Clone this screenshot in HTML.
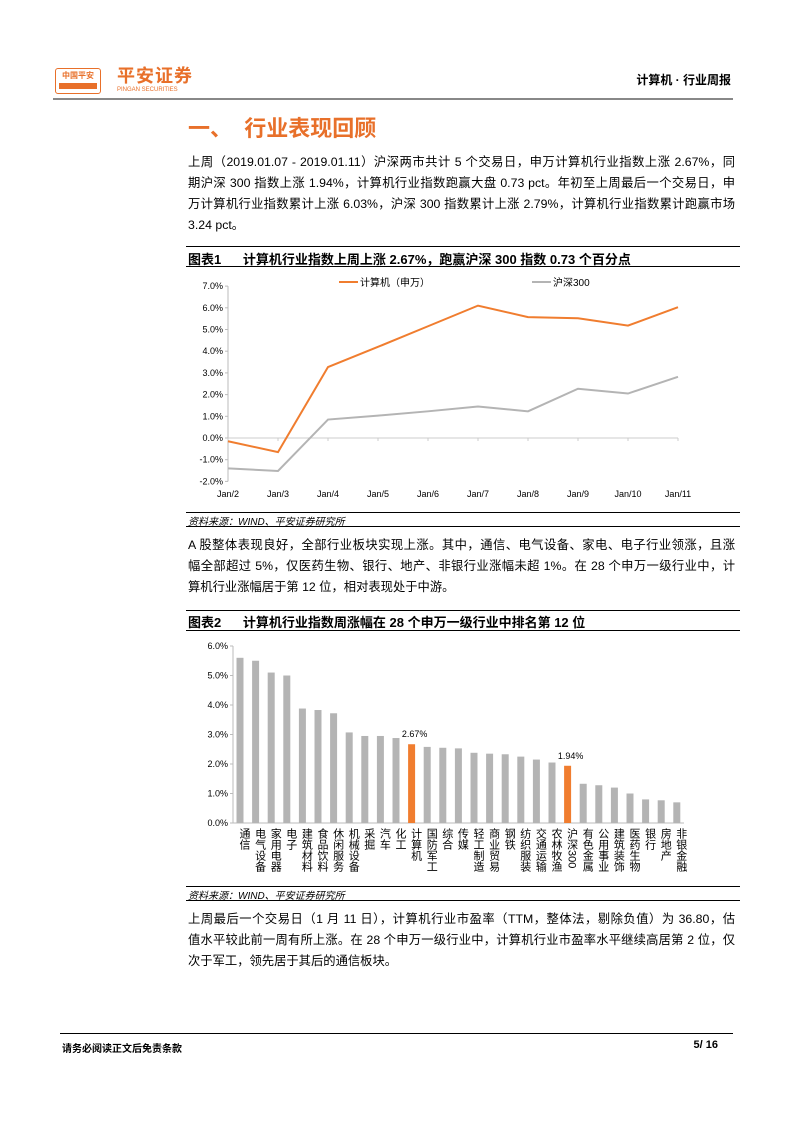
<!DOCTYPE html>
<html><head><meta charset="utf-8">
<style>
body{margin:0;background:#fff;}
#page{position:relative;width:793px;height:1122px;overflow:hidden;font-family:"Liberation Sans","Noto Sans CJK SC",sans-serif;color:#000;}
.abs{position:absolute;}
.ln{position:absolute;left:188px;width:547px;font-size:12.3px;line-height:16px;white-space:nowrap;}
.j{text-align:justify;text-align-last:justify;}
.cap{position:absolute;left:188px;font-size:13px;font-weight:bold;white-space:nowrap;}
.src{position:absolute;left:188px;font-size:10px;font-style:italic;white-space:nowrap;}
.hr{position:absolute;left:186px;width:554px;height:1px;background:#000;}
</style></head><body>
<div id="page">
<div class="abs" style="left:55px;top:68px;width:44px;height:24px;border:1px solid #e8702a;border-radius:3px;color:#e8702a;font-size:8px;font-weight:bold;text-align:center;line-height:14px;">中国平安<div style="background:#e8702a;height:6px;margin:0 3px;"></div></div>
<div class="abs" style="left:117px;top:66px;color:#e8702a;font-size:18px;font-weight:bold;letter-spacing:1px;line-height:20px;">平安证券</div>
<div class="abs" style="left:117px;top:87px;color:#e8702a;font-size:6px;line-height:7px;">PINGAN SECURITIES</div>
<div class="abs" style="right:62px;top:71px;font-size:12px;font-weight:bold;">计算机 · 行业周报</div>
<div class="abs" style="left:53px;top:98px;width:680px;height:2px;background:#888;"></div>
<div class="abs" style="left:188px;top:111px;color:#e8702a;font-size:22px;font-weight:bold;">一、&nbsp;&nbsp;行业表现回顾</div>

<div class="ln j" style="top:154px;">上周（2019.01.07 - 2019.01.11）沪深两市共计 5 个交易日，申万计算机行业指数上涨 2.67%，同</div>
<div class="ln j" style="top:175px;">期沪深 300 指数上涨 1.94%，计算机行业指数跑赢大盘 0.73 pct。年初至上周最后一个交易日，申</div>
<div class="ln j" style="top:196px;">万计算机行业指数累计上涨 6.03%，沪深 300 指数累计上涨 2.79%，计算机行业指数累计跑赢市场</div>
<div class="ln" style="top:217px;">3.24 pct。</div>

<div class="hr" style="top:246px;"></div>
<div class="cap" style="top:249px;">图表1&nbsp;&nbsp;&nbsp;&nbsp;&nbsp;&nbsp;计算机行业指数上周上涨 2.67%，跑赢沪深 300 指数 0.73 个百分点</div>
<div class="hr" style="top:266px;"></div>
<svg class="abs" id="c1" style="left:0;top:0" width="793" height="530"></svg>
<div class="hr" style="top:512px;"></div>
<div class="src" style="top:513px;">资料来源：WIND、平安证券研究所</div>
<div class="hr" style="top:526px;"></div>

<div class="ln j" style="top:537px;">A 股整体表现良好，全部行业板块实现上涨。其中，通信、电气设备、家电、电子行业领涨，且涨</div>
<div class="ln j" style="top:558px;">幅全部超过 5%，仅医药生物、银行、地产、非银行业涨幅未超 1%。在 28 个申万一级行业中，计</div>
<div class="ln" style="top:579px;">算机行业涨幅居于第 12 位，相对表现处于中游。</div>

<div class="hr" style="top:610px;"></div>
<div class="cap" style="top:612px;">图表2&nbsp;&nbsp;&nbsp;&nbsp;&nbsp;&nbsp;计算机行业指数周涨幅在 28 个申万一级行业中排名第 12 位</div>
<div class="hr" style="top:630px;"></div>
<svg class="abs" id="c2" style="left:0;top:0" width="793" height="900"></svg>
<div class="hr" style="top:886px;"></div>
<div class="src" style="top:887px;">资料来源：WIND、平安证券研究所</div>
<div class="hr" style="top:900px;"></div>

<div class="ln j" style="top:911px;">上周最后一个交易日（1 月 11 日），计算机行业市盈率（TTM，整体法，剔除负值）为 36.80，估</div>
<div class="ln j" style="top:932px;">值水平较此前一周有所上涨。在 28 个申万一级行业中，计算机行业市盈率水平继续高居第 2 位，仅</div>
<div class="ln" style="top:953px;">次于军工，领先居于其后的通信板块。</div>

<div class="abs" style="left:60px;top:1033px;width:673px;height:1px;background:#000;"></div>
<div class="abs" style="left:62px;top:1040px;font-size:10px;font-weight:bold;">请务必阅读正文后免责条款</div>
<div class="abs" style="right:75px;top:1039px;font-size:11px;font-weight:bold;">5/ 16</div>
</div>
<script>
const NS='http://www.w3.org/2000/svg';
function mk(svg,t,a,txt){const e=document.createElementNS(NS,t);for(const k in a)e.setAttribute(k,a[k]);if(txt!==undefined)e.textContent=txt;svg.appendChild(e);return e;}
// chart 1 data
const dates=['Jan/2','Jan/3','Jan/4','Jan/5','Jan/6','Jan/7','Jan/8','Jan/9','Jan/10','Jan/11'];
const computer=[-0.15,-0.65,3.27,4.2,5.15,6.1,5.57,5.52,5.18,6.03];
const hs300=[-1.4,-1.52,0.85,1.03,1.23,1.45,1.23,2.27,2.05,2.82];
const yTicks1=[-2,-1,0,1,2,3,4,5,6,7];
const s1=document.getElementById('c1');
const x1=i=>228+i*50, y1=v=>438-v*21.7;
mk(s1,'line',{x1:228,y1:y1(-2),x2:228,y2:y1(7),stroke:'#bbb'});
mk(s1,'line',{x1:228,y1:y1(0),x2:678,y2:y1(0),stroke:'#ccc'});
yTicks1.forEach(v=>{const t=mk(s1,'text',{x:223,y:y1(v)+3,'font-size':9,'text-anchor':'end',fill:'#000'},v.toFixed(1)+'%');mk(s1,'line',{x1:225,y1:y1(v),x2:228,y2:y1(v),stroke:'#bbb'});});
dates.forEach((d,i)=>{const t=mk(s1,'text',{x:x1(i),y:497,'font-size':9,'text-anchor':'middle'},d);mk(s1,'line',{x1:x1(i),y1:y1(0),x2:x1(i),y2:y1(0)+3,stroke:'#ccc'});});
const p1=mk(s1,'polyline',{points:computer.map((v,i)=>x1(i)+','+y1(v)).join(' '),fill:'none',stroke:'#f07d2f','stroke-width':2});

const p2=mk(s1,'polyline',{points:hs300.map((v,i)=>x1(i)+','+y1(v)).join(' '),fill:'none',stroke:'#b4b4b4','stroke-width':2});

mk(s1,'line',{x1:339,y1:282,x2:358,y2:282,stroke:'#f07d2f','stroke-width':2});
const l1=mk(s1,'text',{x:360,y:286,'font-size':10},'计算机（申万）');
mk(s1,'line',{x1:532,y1:282,x2:551,y2:282,stroke:'#b4b4b4','stroke-width':2});
const l2=mk(s1,'text',{x:553,y:286,'font-size':10},'沪深300');
// chart 2 data
const industries=['通信','电气设备','家用电器','电子','建筑材料','食品饮料','休闲服务','机械设备','采掘','汽车','化工','计算机','国防军工','综合','传媒','轻工制造','商业贸易','钢铁','纺织服装','交通运输','农林牧渔','沪深300','有色金属','公用事业','建筑装饰','医药生物','银行','房地产','非银金融'];
const gains=[5.6,5.5,5.1,5.0,3.88,3.83,3.72,3.07,2.95,2.95,2.88,2.67,2.58,2.55,2.53,2.38,2.35,2.33,2.25,2.15,2.05,1.94,1.33,1.28,1.2,1.0,0.8,0.77,0.7];
const highlight=['计算机','沪深300'];
const yTicks2=[0,1,2,3,4,5,6];
const s2=document.getElementById('c2');
const x2=i=>240+i*15.6, y2=v=>823-v*29.5;
mk(s2,'line',{x1:233,y1:y2(0),x2:233,y2:y2(6),stroke:'#bbb'});
mk(s2,'line',{x1:233,y1:y2(0),x2:684,y2:y2(0),stroke:'#bbb'});
yTicks2.forEach(v=>{const t=mk(s2,'text',{x:228,y:y2(v)+3,'font-size':9,'text-anchor':'end'},v.toFixed(1)+'%');mk(s2,'line',{x1:230,y1:y2(v),x2:233,y2:y2(v),stroke:'#bbb'});});
industries.forEach((n,i)=>{const hl=highlight.includes(n);
const r=mk(s2,'rect',{x:x2(i)-3.5,y:y2(gains[i]),width:7,height:y2(0)-y2(gains[i]),fill:hl?'#f07d2f':'#b4b4b4'});

if(hl){const t=mk(s2,'text',{x:x2(i)+3,y:y2(gains[i])-7,'font-size':9,'text-anchor':'middle'},gains[i].toFixed(2)+'%');}
const t=mk(s2,'text',{x:x2(i)+4,y:828,'font-size':11,style:'writing-mode:vertical-rl;'},n);
});
</script>
</body></html>
